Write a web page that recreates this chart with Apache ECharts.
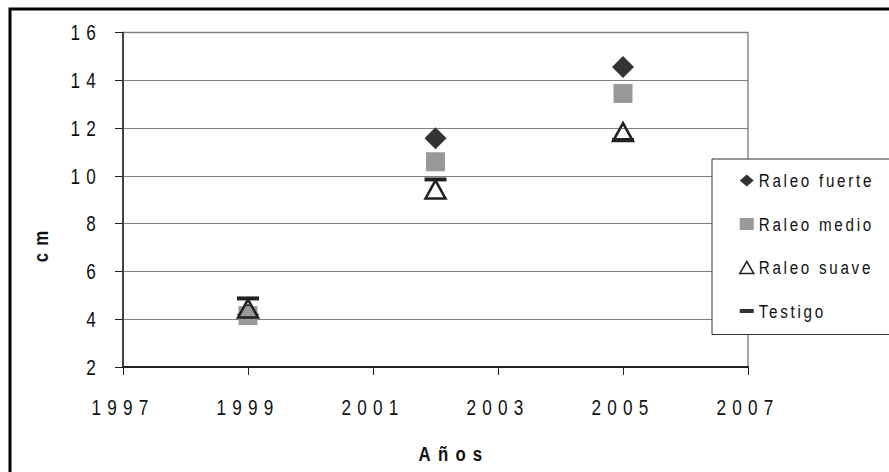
<!DOCTYPE html>
<html>
<head>
<meta charset="utf-8">
<script src="https://cdn.jsdelivr.net/npm/echarts@6/dist/echarts.min.js"></script>
<style>
  html, body { margin: 0; padding: 0; background: #fff; }
  #chart { width: 889px; height: 472px; }
</style>
</head>
<body>
<div id="chart"></div>
<script>
// Measurements by year (cm)
const years       = [1999, 2002, 2005];
const raleoFuerte = [4.2, 11.57, 14.56];
const raleoMedio  = [4.15, 10.59, 13.45];
const raleoSuave  = [4.45, 9.43, 11.83];
const testigo     = [4.87, 9.85, 11.5];

const seriesNames = ['Raleo fuerte', 'Raleo medio', 'Raleo suave', 'Testigo'];
const xTicks = { min: 1997, max: 2007, step: 2 };
const yTicks = { min: 2, max: 16, step: 2 };

const pairs = vals => years.map((y, i) => [y, vals[i]]);
const FONT = "'Liberation Sans', Arial, sans-serif";

// Condensed, widely spaced lettering: font size -> [letter spacing, horizontal squeeze]
const LETTERING = { 22: [8, 0.78], 19: [3.4, 0.8], 21: [9, 0.8] };

const chart = echarts.init(document.getElementById('chart'), null, { renderer: 'svg' });

chart.on('finished', () => {
  document.querySelectorAll('#chart svg text').forEach(t => {
    if (t.dataset.lettered) return;
    const fs = Math.round(parseFloat(getComputedStyle(t).fontSize));
    const cfg = LETTERING[fs];
    if (!cfg) return;
    t.dataset.lettered = '1';
    t.style.letterSpacing = cfg[0] + 'px';
    const x = parseFloat(t.getAttribute('x') || '0');
    const m = t.getAttribute('transform') || '';
    t.setAttribute('transform',
      (m + ` translate(${x},0) scale(${cfg[1]},1) translate(${-x},0)`).trim());
  });
});

chart.setOption({
  animation: false,
  backgroundColor: '#fff',
  grid: {
    left: 123, top: 32.5, right: 141, bottom: 105,
    show: true, borderColor: '#8a8a8a', borderWidth: 1.5, backgroundColor: 'transparent'
  },
  xAxis: {
    type: 'value', min: xTicks.min, max: xTicks.max, interval: xTicks.step,
    axisLine: { show: true, lineStyle: { color: '#222', width: 2 } },
    axisTick: { show: true, length: 8, lineStyle: { color: '#222', width: 1 } },
    splitLine: { show: false },
    axisLabel: { margin: 29, fontSize: 22, color: '#111', fontFamily: FONT,
                 formatter: v => String(v) },
  },
  yAxis: {
    type: 'value', min: yTicks.min, max: yTicks.max, interval: yTicks.step,
    axisLine: { show: true, lineStyle: { color: '#222', width: 1.5 } },
    axisTick: { show: true, length: 8, lineStyle: { color: '#222', width: 1 } },
    splitLine: { show: true, lineStyle: { color: '#808080', width: 1.2 } },
    axisLabel: { margin: 21, fontSize: 22, color: '#111', fontFamily: FONT },
  },
  legend: {
    orient: 'vertical',
    left: 712, top: 159,
    padding: [12, 80, 14, 27],
    itemGap: 24.5,
    itemWidth: 14, itemHeight: 12,
    backgroundColor: '#fff',
    borderColor: '#333', borderWidth: 1,
    textStyle: { fontSize: 19, color: '#111', fontFamily: FONT },
    data: [
      { name: seriesNames[0], icon: 'diamond', itemStyle: { color: '#333' } },
      { name: seriesNames[1], icon: 'rect', itemStyle: { color: '#999' } },
      { name: seriesNames[2], icon: 'triangle', itemStyle: { color: '#fff', borderColor: '#222', borderWidth: 1.5 } },
      { name: seriesNames[3], icon: 'path://M0,0h14v4h-14z', itemStyle: { color: '#333' } }
    ]
  },
  graphic: [
    { type: 'rect', silent: true, z: -1,
      shape: { x: 10, y: 9, width: 900, height: 480 },
      style: { fill: 'none', stroke: '#000', lineWidth: 3 } },
    { type: 'text', silent: true, x: 41, y: 243, rotation: Math.PI / 2,
      style: { text: 'cm', fontSize: 21, fontWeight: 'bold', fill: '#111', fontFamily: FONT,
               align: 'center', verticalAlign: 'middle' } },
    { type: 'text', silent: true, x: 454, y: 454,
      style: { text: 'Años', fontSize: 21, fontWeight: 'bold', fill: '#111', fontFamily: FONT,
               align: 'center', verticalAlign: 'middle' } }
  ],
  series: [
    { name: seriesNames[0], type: 'scatter', data: pairs(raleoFuerte), z: 2,
      symbol: 'diamond', symbolSize: [22, 22], itemStyle: { color: '#333', opacity: 1 } },
    { name: seriesNames[1], type: 'scatter', data: pairs(raleoMedio), z: 3,
      symbol: 'rect', symbolSize: [19, 19], itemStyle: { color: '#999', opacity: 1 } },
    { name: seriesNames[2], type: 'scatter', data: pairs(raleoSuave), z: 4,
      symbol: 'triangle', symbolSize: [20, 18],
      itemStyle: { color: 'rgba(0,0,0,0)', borderColor: '#222', borderWidth: 2.5, opacity: 1 } },
    { name: seriesNames[3], type: 'scatter', data: pairs(testigo), z: 5,
      symbol: 'rect', symbolSize: [22, 4], itemStyle: { color: '#222', opacity: 1 } }
  ]
});
</script>
</body>
</html>
